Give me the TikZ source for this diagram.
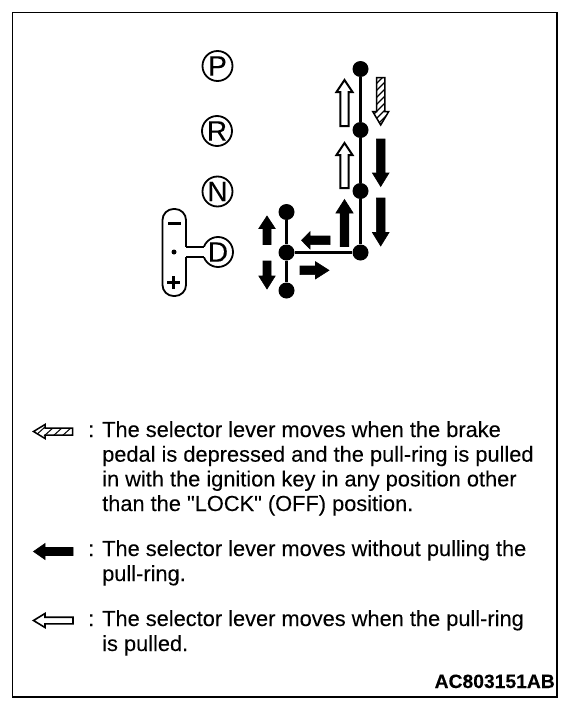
\documentclass[tikz,border=0pt]{standalone}
\usepackage{fontspec}
\setmainfont[FakeBold=0.06]{Liberation Sans}
\newfontfamily\plainquote[FakeBold=0.06]{Liberation Sans}
\newcommand{\varrowpath}[6]{(#1-#5,#2)--(#1+#5,#2)--(#1+#5,#4)--(#1+#6,#4)--(#1,#3)--(#1-#6,#4)--(#1-#5,#4)--cycle}
\newcommand{\harrowpath}[6]{(#1,#2-#5)--(#1,#2+#5)--(#3,#2+#5)--(#3,#2+#6)--(#4,#2)--(#3,#2-#6)--(#3,#2-#5)--cycle}
\tikzset{
  x=1pt,y=-1pt,
  frame/.style={draw=black,line width=1.7pt,fill=white},
  letter/.style={circle,draw=black,line width=1.8pt,fill=white,minimum size=30pt,inner sep=0pt,font=\fontsize{28}{28}\selectfont},
  gatedot/.style={circle,fill=black,minimum size=16pt,inner sep=0pt},
  gateline/.style={draw=black,line width=3.2pt},
  solidarrow/.style={fill=black,draw=black,line width=0.6pt},
  openarrow/.style={fill=white,draw=black,line width=2pt,miter limit=4},
  hatchline/.style={draw=black,line width=1.3pt},
  legend/.style={anchor=base west,inner sep=0pt,font=\fontsize{21.8}{24}\selectfont},
  paddle/.style={draw=black,line width=1.8pt,fill=white,rounded corners=11pt},
}
\begin{document}
\begin{tikzpicture}
\useasboundingbox (0,0) rectangle (576,712);
\path[fill=white] (0,0) rectangle (576,712);
\draw[frame] (12.5,12.5) rectangle (557,697);

% paddle
\draw[paddle] (162.5,209) rectangle (186,296);
\node[letter] (P) at (217.5,66) {P};
\node[letter] (R) at (217,131) {R};
\node[letter] (N) at (217.5,191.5) {N};
\node[letter] (D) at (218,252) {D};
\coordinate (stemA) at (186,247);
\coordinate (stemB) at (186,257);
\coordinate (stemC) at (204,247);
\coordinate (stemD) at (204,257);
\path[fill=white] (184,247) rectangle (205,257);
\draw[line width=1.8pt] (stemA) -- (stemC) (stemB) -- (stemD);
\node[inner sep=0pt,minimum width=13pt,minimum height=3pt,fill=black] (minus) at (174,223) {};
\node[circle,inner sep=0pt,minimum size=5pt,fill=black] (centre) at (174,252) {};
\node[inner sep=0pt,minimum width=13pt,minimum height=3pt,fill=black] (plusH) at (173.5,282) {};
\node[inner sep=0pt,minimum width=3pt,minimum height=13pt,fill=black] (plusV) at (173.5,282) {};

% gate
\node[gatedot] (g1) at (360.5,69) {};
\node[gatedot] (g2) at (360.5,130) {};
\node[gatedot] (g3) at (360.5,191) {};
\node[gatedot] (g4) at (360.5,252.5) {};
\node[gatedot] (g5) at (286.5,252.5) {};
\node[gatedot] (g6) at (286.5,212) {};
\node[gatedot] (g7) at (286.5,290.5) {};
\draw[gateline] (g1) -- (g2);
\draw[gateline] (g2) -- (g3);
\draw[gateline] (g3) -- (g4);
\draw[gateline] (g4) -- (g5);
\draw[gateline] (g6) -- (g5);
\draw[gateline] (g5) -- (g7);

% open arrows
\draw[openarrow] \varrowpath{344.5}{126}{80}{92}{4.2}{8};
\draw[openarrow] \varrowpath{344.5}{188}{143}{155}{4.2}{8};
% hatched arrow
\begin{scope}
\clip \varrowpath{380.7}{77.5}{125}{111.5}{4.2}{8};
\foreach \yy in {72,79,...,135} \draw[hatchline] (374,\yy+7) -- (388,\yy-7);
\end{scope}
\draw[draw=black,line width=1.5pt] \varrowpath{380.7}{77.5}{125}{111.5}{4.2}{8};
% solid arrows
\draw[solidarrow] \varrowpath{380.7}{139}{186.5}{173}{4.3}{8.3};
\draw[solidarrow] \varrowpath{380.7}{198}{246}{232.5}{4.3}{8.3};
\draw[solidarrow] \varrowpath{344.5}{246.5}{199.5}{213}{4.3}{8.6};
\draw[solidarrow] \harrowpath{330}{240.3}{310}{301.5}{4.3}{8.6};
\draw[solidarrow] \harrowpath{300}{270.3}{315.5}{329}{4.3}{8.6};
\draw[solidarrow] \varrowpath{267}{244.5}{216}{228.5}{4}{8.2};
\draw[solidarrow] \varrowpath{267}{261}{289}{276}{4}{8.2};

% legend arrows
\begin{scope}
\clip \harrowpath{72.5}{431.5}{45}{33.5}{3.5}{7};
\foreach \xx in {40,49,...,76} \draw[line width=1pt] (\xx-5,436) -- (\xx+5,427);
\end{scope}
\draw[line width=1.5pt] \harrowpath{72.5}{431.5}{45}{33.5}{3.5}{7};
\draw[solidarrow] \harrowpath{73}{551.5}{45}{33.5}{4}{8};
\draw[line width=1.6pt,fill=white] \harrowpath{73}{620.5}{45}{33.5}{3.3}{7};

% legend text
\node[legend] (c1) at (88,437) {:};
\node[legend] (t1) at (102,437) {The selector lever moves when the brake};
\node[legend] (t2) at (102,461.7) {pedal is depressed and the pull-ring is pulled};
\node[legend] (t3) at (102,486.4) {in with the ignition key in any position other};
\node[legend] (t4) at (102,511) {than the {\plainquote"}LOCK{\plainquote"} (OFF) position.};
\node[legend] (c2) at (88,556) {:};
\node[legend] (t5) at (102,556) {The selector lever moves without pulling the};
\node[legend] (t6) at (102,581) {pull-ring.};
\node[legend] (c3) at (88,626) {:};
\node[legend] (t7) at (102,626) {The selector lever moves when the pull-ring};
\node[legend] (t8) at (102,651) {is pulled.};
\node[anchor=base east,inner sep=0pt,font=\fontsize{19.3}{20}\selectfont\bfseries] (code) at (555,688) {AC803151AB};
\end{tikzpicture}
\end{document}
